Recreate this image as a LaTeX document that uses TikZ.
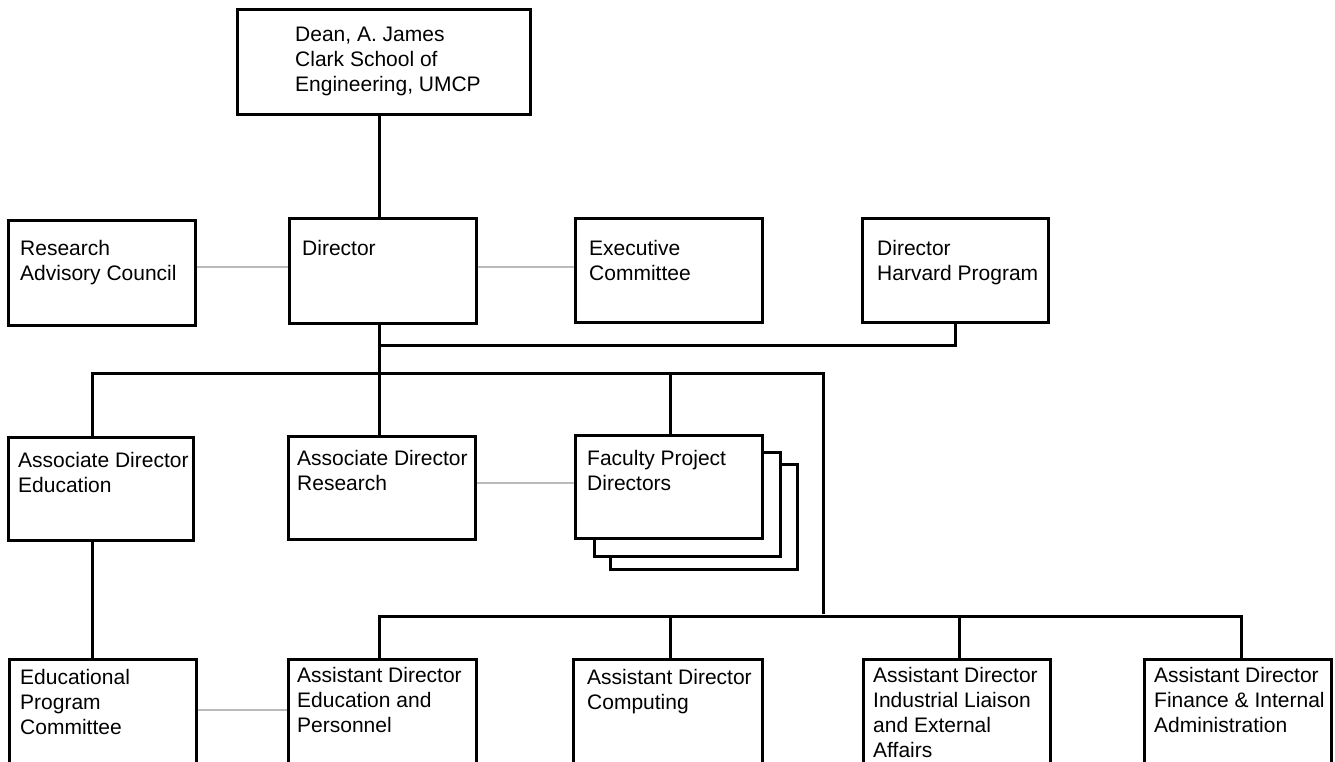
\documentclass[tikz,border=0pt]{standalone}
\usepackage{fontspec}
\setmainfont{Liberation Sans}
\usetikzlibrary{calc}
\newcommand\orgbox[5]{\node[box, minimum width={#4-#2}, minimum height={#5-#3}] (#1) at ({(#2+#4)/2},{(#3+#5)/2}) {};}
\newcommand\lns[1]{\begin{tabular}[t]{@{}l@{}}#1\end{tabular}}
\begin{document}
\begin{tikzpicture}[x=1pt,y=-1pt,
  box/.style={draw=black, line width=3pt, fill=white, rectangle, inner sep=0pt},
  link/.style={draw=black, line width=3pt, line join=miter},
  soft/.style={draw=black!27, line width=2.2pt},
  txt/.style={anchor=base west, inner sep=0pt, font=\fontsize{21}{25}\selectfont}]
\useasboundingbox (0,0) rectangle (1335,762);
\clip (0,0) rectangle (1335,762);

% coordinates for buses
\coordinate (sx) at (379,0);
\coordinate (j1) at (379,345);
\coordinate (hx) at (955,345);
\coordinate (busL) at (92,373);
\coordinate (busR) at (823,373);
\coordinate (fx) at (670,373);
\coordinate (riseEnd) at (823,614);
\coordinate (lbL) at (379,616);
\coordinate (lbC) at (670,616);
\coordinate (lbI) at (959,616);
\coordinate (lbR) at (1241,616);
\coordinate (g1) at (0,267);
\coordinate (g2) at (0,483);
\coordinate (g3) at (0,710);

% boxes
\orgbox{dean}{237}{10}{530}{115}
\orgbox{rac}{8}{220}{195}{325}
\orgbox{dir}{289}{218}{476}{323}
\orgbox{exec}{575}{218}{762}{322}
\orgbox{harv}{862}{218}{1048}{322}
\orgbox{ade}{8}{437}{193}{540}
\orgbox{adr}{288}{436}{475}{539}
\orgbox{fpdc}{610}{464}{797}{569}
\orgbox{fpdb}{594}{452}{780}{556}
\orgbox{fpd}{575}{435}{762}{538}
\orgbox{epc}{9}{659}{196}{800}
\orgbox{adep}{288}{659}{476}{800}
\orgbox{adc}{573}{659}{762}{800}
\orgbox{adi}{863}{659}{1050}{800}
\orgbox{adf}{1144}{659}{1331}{800}

% texts
\node[txt] (tdean) at (295,42) {\lns{Dean, A. James\\Clark School of\\Engineering, UMCP}};
\node[txt] (trac) at (20,255) {\lns{Research\\Advisory Council}};
\node[txt] (tdir) at (302,255) {Director};
\node[txt] (texec) at (589,255) {\lns{Executive\\Committee}};
\node[txt] (tharv) at (877,255) {\lns{Director\\Harvard Program}};
\node[txt] (tade) at (18,467) {\lns{Associate Director\\Education}};
\node[txt] (tadr) at (297,465) {\lns{Associate Director\\Research}};
\node[txt] (tfpd) at (587,465) {\lns{Faculty Project\\Directors}};
\node[txt] (tepc) at (20,684) {\lns{Educational\\Program\\Committee}};
\node[txt] (tadep) at (297,682) {\lns{Assistant Director\\Education and\\Personnel}};
\node[txt] (tadc) at (587,684) {\lns{Assistant Director\\Computing}};
\node[txt] (tadi) at (873,682) {\lns{Assistant Director\\Industrial Liaison\\and External\\Affairs}};
\node[txt] (tadf) at (1154,682) {\lns{Assistant Director\\Finance \& Internal\\Administration}};

% black connectors
\draw[link] (dean.south -| sx) -- (dir.north -| sx);
\draw[link] (dir.south -| sx) -- (adr.north -| sx);
\draw[link] (harv.south -| hx) -- (hx) -- (j1);
\draw[link] (ade.north -| busL) -- (busL) -- (busR) -- (riseEnd);
\draw[link] (fx) -- (fpd.north -| fx);
\draw[link] (ade.south -| busL) -- (epc.north -| busL);
\draw[link] (adep.north -| lbL) -- (lbL) -- (lbR) -- (adf.north -| lbR);
\draw[link] (lbC) -- (adc.north -| lbC);
\draw[link] (lbI) -- (adi.north -| lbI);

% grey connectors
\draw[soft] (rac.east |- g1) -- (dir.west |- g1);
\draw[soft] (dir.east |- g1) -- (exec.west |- g1);
\draw[soft] (adr.east |- g2) -- (fpd.west |- g2);
\draw[soft] (epc.east |- g3) -- (adep.west |- g3);
\end{tikzpicture}
\end{document}
